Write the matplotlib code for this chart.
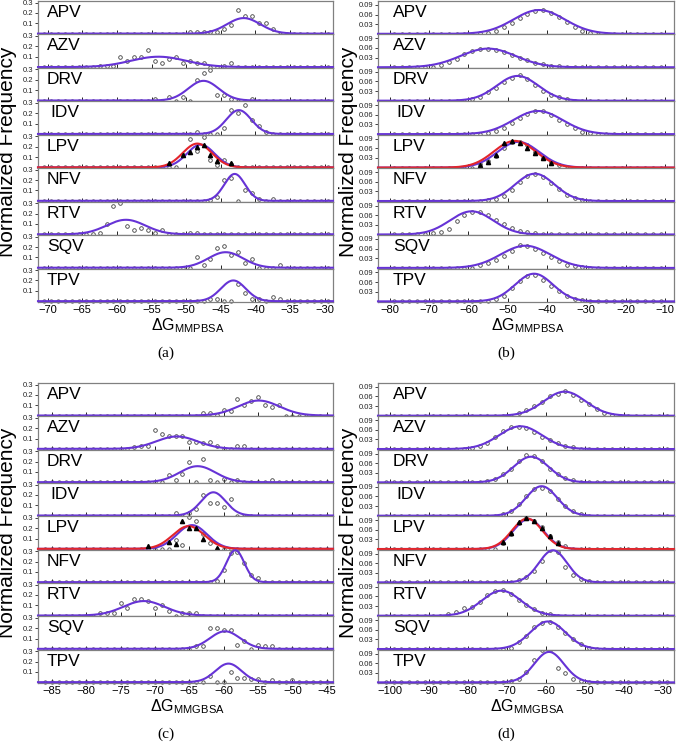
import numpy as np
import matplotlib.pyplot as plt

plt.rcParams['font.family'] = ['Liberation Sans', 'DejaVu Sans']
plt.rcParams['mathtext.fontset'] = 'custom'
plt.rcParams['mathtext.rm'] = 'Liberation Sans'
plt.rcParams['mathtext.it'] = 'Liberation Sans:italic'

drugs = ["APV", "AZV", "DRV", "IDV", "LPV", "NFV", "RTV", "SQV", "TPV"]

# ---- panel (a): MMPBSA, sampled distributions, bin width 1
grid_a = np.arange(-70.5, -29.0, 1.0)
pts_a = {
    "APV": ([-49.5, -48.5, -47.5, -46.5, -45.5, -44.5, -43.5, -42.5, -41.5, -40.5, -39.5, -38.5, -37.5],
            [.02, .02, .02, .02, .017, .04, .08, .23, .17, .17, .10, .10, .04]),
    "AZV": ([-62.5, -61.5, -60.5, -59.5, -58.5, -57.5, -56.5, -55.5, -54.5, -53.5, -52.5, -51.5, -50.5,
             -49.5, -48.5, -47.5, -44.5, -43.5],
            [.007, .007, .007, .10, .057, .10, .10, .16, .057, .04, .077, .10, .04, .057, .04, .04, .01, .04]),
    "DRV": ([-54.5, -52.5, -50.5, -48.5, -47.5, -46.5, -45.5, -44.5, -43.5, -40.5],
            [.01, .033, .033, .20, .27, .29, .057, .057, .017, .01]),
    "IDV": ([-48.5, -44.5, -43.5, -42.5, -41.5, -40.5, -39.5, -38.5],
            [.017, .06, .23, .20, .28, .13, .073, .017]),
    "LPV": ([-50.5, -49.5, -48.5, -47.5, -46.5, -45.5, -44.5, -43.5],
            [.12, .27, .16, .29, .073, .027, .073, .033]),
    "NFV": ([-46.5, -45.5, -44.5, -43.5, -41.5, -40.5, -39.5, -37.5],
            [.005, .04, .20, .22, .10, .077, .017, .017]),
    "RTV": ([-63.5, -62.5, -61.5, -60.5, -59.5, -58.5, -57.5, -56.5, -55.5, -54.5, -53.5, -49.5, -48.5],
            [.007, .017, .10, .27, .30, .083, .04, .057, .04, .017, .04, .017, .017]),
    "SQV": ([-48.5, -47.5, -46.5, -45.5, -44.5, -43.5, -42.5, -41.5, -40.5, -36.5],
            [.10, .027, .083, .19, .21, .127, .15, .05, .083, .027]),
    "TPV": ([-46.5, -45.5, -42.5, -41.5, -40.5, -39.5, -37.5, -36.5],
            [.023, .023, .167, .083, .023, .023, .04, .023]),
}
tri_a = ([-52.5, -50.5, -49.5, -48.5, -47.5, -46.5, -45.5, -43.5],
         [.04, .12, .15, .20, .22, .12, .06, .045])
# gaussian fits: (mean, sd, peak)
fit_a = {"APV": (-41.7, 2.4, .15), "AZV": (-54.0, 4.0, .10), "DRV": (-47.5, 2.2, .19),
         "IDV": (-42.4, 1.8, .23), "LPV": (-47.9, 2.0, .22), "NFV": (-43.0, 1.5, .26),
         "RTV": (-58.7, 2.8, .14), "SQV": (-44.3, 2.5, .15), "TPV": (-43.2, 1.8, .20)}
red_a = (-48.4, 2.1, .23)

# ---- panel (b): MMPBSA, bin width 2
grid_b = np.arange(-79.0, -10.0, 2.0)
pts_b = {
    "APV": ([-57, -55, -53, -51, -49, -47, -45, -43, -41, -39, -37, -35, -33, -31, -29],
            [.002, .004, .009, .02, .033, .048, .062, .072, .073, .066, .053, .038, .022, .01, .003]),
    "AZV": ([-67, -65, -63, -61, -59, -57, -55, -53, -51, -49, -47, -45, -43, -41, -39, -37],
            [.007, .015, .027, .04, .049, .056, .057, .054, .047, .038, .028, .021, .014, .009, .005, .003]),
    "DRV": ([-59, -57, -55, -53, -51, -49, -47, -45, -43, -41, -39, -37, -35],
            [.004, .012, .026, .041, .059, .072, .079, .067, .049, .031, .019, .01, .004]),
    "IDV": ([-55, -53, -51, -49, -47, -45, -43, -41, -39, -37, -35, -33, -31, -29],
            [.004, .01, .02, .035, .049, .062, .072, .071, .059, .045, .031, .018, .007, .002]),
    "LPV": ([-57, -55, -53, -51, -49, -47, -45, -43, -41, -39, -37],
            [.01, .02, .035, .06, .078, .078, .07, .05, .03, .017, .007]),
    "NFV": ([-55, -53, -51, -49, -47, -45, -43, -41, -39, -37, -35, -33, -31],
            [.002, .005, .017, .033, .058, .077, .083, .074, .056, .036, .02, .01, .004]),
    "RTV": ([-69, -67, -65, -63, -61, -59, -57, -55, -53, -51, -49, -47, -45, -43],
            [.004, .007, .017, .041, .061, .071, .07, .061, .045, .033, .021, .012, .007, .004]),
    "SQV": ([-57, -55, -53, -51, -49, -47, -45, -43, -41, -39, -37, -35, -33, -31],
            [.008, .016, .024, .038, .054, .07, .067, .06, .045, .034, .021, .01, .005, .003]),
    "TPV": ([-53, -51, -49, -47, -45, -43, -41, -39, -37, -35, -33, -31],
            [.007, .018, .04, .064, .078, .082, .066, .049, .031, .018, .007, .003]),
}
tri_b = ([-57, -55, -53, -51, -49, -47, -45, -43, -41, -39],
         [.008, .018, .04, .075, .082, .077, .062, .045, .03, .015])
fit_b = {"APV": (-42.0, 6.5, .074), "AZV": (-55.0, 7.0, .058), "DRV": (-47.5, 5.3, .077),
         "IDV": (-42.3, 6.3, .072), "LPV": (-47.3, 5.3, .080), "NFV": (-43.1, 5.0, .085),
         "RTV": (-59.2, 5.5, .072), "SQV": (-45.5, 6.3, .069), "TPV": (-43.3, 4.8, .086)}
red_b = (-48.2, 5.3, .083)

# ---- panel (c): MMGBSA, bin width 1
grid_c = np.arange(-86.0, -44.5, 1.0)
pts_c = {
    "APV": ([-63, -62, -61, -60, -59, -58, -57, -56, -55, -54, -53, -52],
            [.023, .023, .006, .058, .039, .16, .10, .14, .18, .10, .087, .10]),
    "AZV": ([-73, -72, -71, -70, -69, -68, -67, -66, -65, -64, -63, -62, -61, -58, -57],
            [.016, .023, .023, .18, .14, .12, .12, .12, .068, .068, .052, .068, .026, .026, .026]),
    "DRV": ([-68, -67, -66, -65, -63, -62, -60, -58, -53],
            [.065, .023, .08, .20, .22, .023, .03, .023, .023]),
    "IDV": ([-67, -65, -64, -63, -62, -61, -60, -59],
            [.023, .023, .065, .20, .12, .12, .08, .16]),
    "LPV": ([-67, -66, -65, -64, -63, -62],
            [.09, .04, .31, .27, .14, .06]),
    "NFV": ([-61, -60, -59, -58, -57, -56, -55],
            [.016, .12, .28, .29, .185, .065, .042]),
    "RTV": ([-78, -77, -76, -75, -74, -73, -72, -71, -70, -69, -68, -66, -65, -64],
            [.023, .023, .023, .12, .075, .16, .16, .14, .075, .10, .04, .023, .023, .023]),
    "SQV": ([-64, -63, -62, -61, -60, -59, -58, -57, -55, -54, -53],
            [.023, .023, .20, .20, .18, .18, .04, .08, .04, .023, .023]),
    "TPV": ([-62, -59, -58, -57, -56, -55, -53, -50],
            [.06, .10, .045, .045, .026, .026, .023, .023]),
}
tri_c = ([-71, -68, -67, -66, -65, -64, -63, -61],
         [.026, .07, .05, .27, .20, .20, .10, .01])
fit_c = {"APV": (-54.9, 3.0, .145), "AZV": (-66.8, 3.0, .12), "DRV": (-63.8, 2.6, .155),
         "IDV": (-61.5, 1.8, .225), "LPV": (-64.6, 2.2, .23), "NFV": (-58.3, 1.3, .31),
         "RTV": (-71.6, 3.0, .14), "SQV": (-59.8, 2.2, .17), "TPV": (-59.3, 1.9, .18)}
red_c = (-65.1, 2.3, .22)

# ---- panel (d): MMGBSA, bin width 2
grid_d = np.arange(-101.0, -28.0, 2.0)
pts_d = {
    "APV": ([-67, -65, -63, -61, -59, -57, -55, -53, -51, -49, -47, -45, -43],
            [.008, .017, .029, .044, .06, .068, .077, .066, .05, .035, .02, .009, .003]),
    "AZV": ([-79, -77, -75, -73, -71, -69, -67, -65, -63, -61, -59, -57, -55, -53],
            [.003, .008, .018, .037, .056, .068, .07, .066, .053, .037, .027, .018, .01, .006]),
    "DRV": ([-75, -73, -71, -69, -67, -65, -63, -61, -59, -57, -55, -53],
            [.004, .011, .025, .042, .068, .084, .082, .066, .042, .025, .013, .006]),
    "IDV": ([-71, -69, -67, -65, -63, -61, -59, -57, -55, -53, -51],
            [.004, .014, .035, .06, .084, .087, .077, .053, .03, .014, .006]),
    "LPV": ([-71, -69, -67, -65, -63, -61, -59, -57, -55],
            [.02, .047, .08, .096, .089, .068, .04, .022, .008]),
    "NFV": ([-67, -65, -63, -61, -59, -57, -55, -53, -51, -49],
            [.006, .017, .037, .068, .10, .094, .047, .022, .011, .004]),
    "RTV": ([-85, -83, -81, -79, -77, -75, -73, -71, -69, -67, -65, -63, -61, -59],
            [.004, .011, .024, .027, .042, .066, .077, .079, .068, .05, .034, .02, .009, .004]),
    "SQV": ([-69, -67, -65, -63, -61, -59, -57, -55, -53, -51, -49],
            [.004, .022, .04, .07, .082, .085, .07, .049, .03, .015, .004]),
    "TPV": ([-69, -67, -65, -63, -61, -59, -57, -55, -53, -51],
            [.004, .012, .031, .07, .10, .10, .046, .028, .012, .005]),
}
tri_d = ([-71, -69, -67, -65, -63, -61, -59, -57],
         [.022, .05, .083, .097, .088, .066, .04, .02])
fit_d = {"APV": (-55.2, 5.3, .075), "AZV": (-66.5, 5.5, .071), "DRV": (-63.8, 4.5, .080),
         "IDV": (-61.1, 4.0, .092), "LPV": (-64.5, 3.9, .093), "NFV": (-58.2, 3.6, .100),
         "RTV": (-71.4, 5.0, .078), "SQV": (-59.5, 4.5, .086), "TPV": (-59.2, 3.8, .095)}
red_d = (-64.8, 3.9, .095)

PURPLE = '#6633d6'
RED = '#e3242b'
W, H = 676, 742
fig = plt.figure(figsize=(W / 100, H / 100), dpi=100)


def gauss(x, p):
    mu, sd, amp = p
    return amp * np.exp(-0.5 * ((x - mu) / sd) ** 2)


def draw_panel(box, xlim, xticks, ylim, yticks, ylabels, grid, pts, fits, tri, red,
               xlabel, tag, label_dx):
    left, top, right, bottom = box
    h = (bottom - top) / 9
    xx = np.linspace(xlim[0], xlim[1], 500)
    for i, d in enumerate(drugs):
        y0 = top + i * h
        ax = fig.add_axes([left / W, 1 - (y0 + h) / H, (right - left) / W, h / H])
        xs, ys = pts[d]
        zero = [g for g in grid if min(abs(g - x) for x in xs) > 0.4]
        ax.plot(zero, np.zeros(len(zero)), 'o', ms=2.4, mfc='none', mec='#404040',
                mew=0.6, zorder=2, clip_on=False)
        ax.plot(xs, ys, 'o', ms=2.6, mfc='none', mec='#404040', mew=0.6, zorder=2)
        ax.plot(xx, gauss(xx, fits[d]), color=PURPLE, lw=1.5, zorder=3, clip_on=False)
        if d == "LPV":
            ax.plot(tri[0], tri[1], '^', ms=3, color='black', zorder=4)
            ax.plot(xx, gauss(xx, red), color=RED, lw=1.5, zorder=3.5, clip_on=False)
        ax.set_xlim(xlim)
        ax.set_ylim(ylim)
        ax.set_yticks(yticks)
        ax.set_yticklabels(ylabels)
        ax.set_xticks(xticks)
        ax.tick_params(axis='y', direction='out', length=2.5, width=0.6, pad=1,
                       labelsize=5.5, colors='#222222')
        ax.tick_params(axis='x', direction='in', length=3, width=0.6, pad=2,
                       labelsize=8, labelbottom=(i == 8))
        for s in ax.spines.values():
            s.set_color('#808080')
            s.set_linewidth(0.9)
        dx = label_dx + (3 if d == "IDV" else 0)
        ax.text(dx / (right - left), 1 - 11.5 / h, d, transform=ax.transAxes,
                fontsize=12.5, va='center', ha='left')
    cx = (left + right) / 2
    fig.text((left - 30) / W, 1 - (top + bottom) / 2 / H, 'Normalized Frequency',
             rotation=90, ha='center', va='center', fontsize=15)
    fig.text((cx + 2) / W, 1 - (bottom + 28) / H, xlabel, ha='center', va='baseline',
             fontsize=11.5)
    fig.text((cx - 20) / W, 1 - (bottom + 51) / H, tag, ha='center', va='center',
             fontsize=11, family='Liberation Serif')


draw_panel((38, 1, 333, 302), (-71.4, -28.8), np.arange(-70, -29, 5),
           (-0.008, 0.315), [0.1, 0.2, 0.3], ['0.1', '0.2', '0.3'],
           grid_a, pts_a, fit_a, tri_a, red_a, r'$\Delta\mathrm{G}_{\mathrm{MMPBSA}}$', '(a)', 9)
draw_panel((378, 1, 674, 302), (-83.0, -7.7), np.arange(-80, -9, 10),
           (-0.002, 0.102), [0.03, 0.06, 0.09], ['0.03', '0.06', '0.09'],
           grid_b, pts_b, fit_b, tri_b, red_b, r'$\Delta\mathrm{G}_{\mathrm{MMPBSA}}$', '(b)', 15)
draw_panel((38, 383, 333, 683), (-87.0, -44.1), np.arange(-85, -44, 5),
           (-0.008, 0.315), [0.1, 0.2, 0.3], ['0.1', '0.2', '0.3'],
           grid_c, pts_c, fit_c, tri_c, red_c, r'$\Delta\mathrm{G}_{\mathrm{MMGBSA}}$', '(c)', 9)
draw_panel((378, 383, 674, 683), (-103.0, -27.2), np.arange(-100, -29, 10),
           (-0.002, 0.102), [0.03, 0.06, 0.09], ['0.03', '0.06', '0.09'],
           grid_d, pts_d, fit_d, tri_d, red_d, r'$\Delta\mathrm{G}_{\mathrm{MMGBSA}}$', '(d)', 15)

fig.savefig('out.png', dpi=100)
